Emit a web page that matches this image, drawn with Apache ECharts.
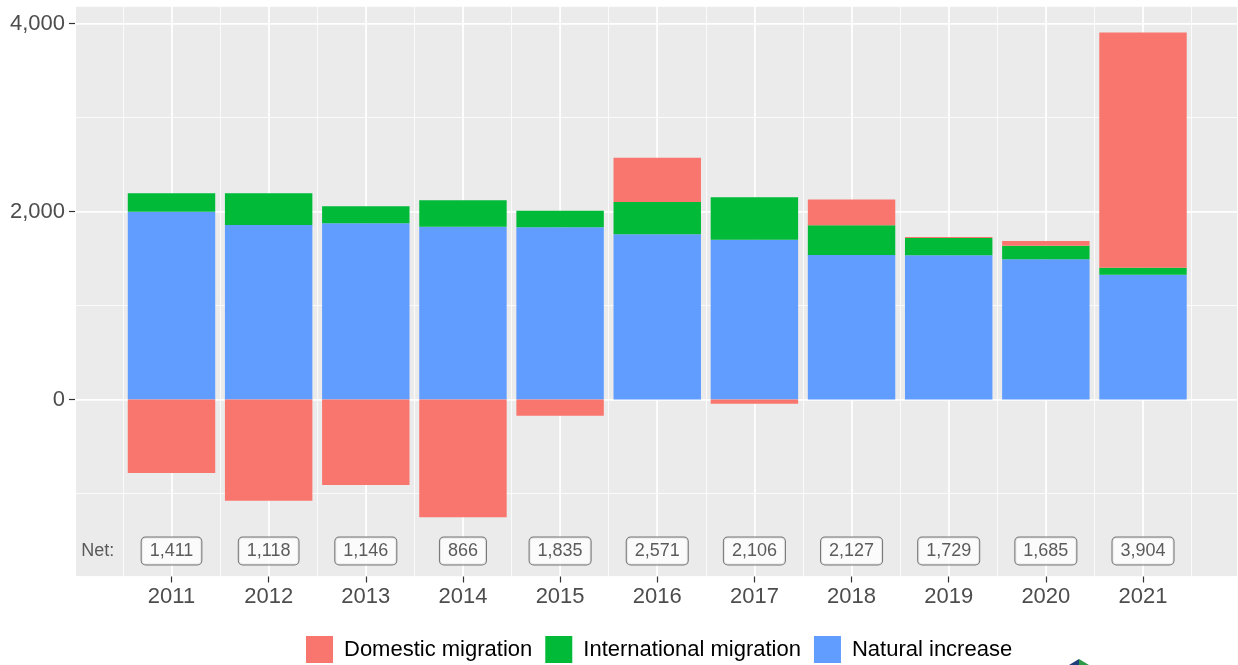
<!DOCTYPE html>
<html>
<head>
<meta charset="utf-8">
<script src="https://cdn.jsdelivr.net/npm/echarts@6/dist/echarts.min.js"></script>
<style>
html,body{margin:0;padding:0;background:#fff;}
#chart{width:1238px;height:665px;}
</style>
</head>
<body>
<div id="chart"></div>
<script>
const years = ['2011','2012','2013','2014','2015','2016','2017','2018','2019','2020','2021'];
const naturalIncrease = [1998,1856,1874,1838,1832,1757,1700,1537,1534,1491,1328];
const internationalMigration = [196,338,181,281,177,344,451,316,184,145,74];
const domesticMigration = [-783,-1076,-909,-1253,-174,470,-45,274,11,49,2502];
const netValues = [1411,1118,1146,866,1835,2571,2106,2127,1729,1685,3904];
const yTickValues = [0,2000,4000];
const seriesNames = ['Domestic migration','International migration','Natural increase'];

const NET_ROW_Y = -1612;
const NET_TEXT_X = -0.76;
const X_MIN = -0.993, X_MAX = 10.978;
const Y_MIN = -1883, Y_MAX = 4186;

const chart = echarts.init(document.getElementById('chart'), null, {renderer:'canvas'});
const FONT = 'Liberation Sans, Arial, sans-serif';

const SLOT = 97.15;
const PANEL_LEFT = 75, FIRST_CENTER = 171.5;

const barCommon = {
  type:'bar', stack:'total', barWidth:'90%', xAxisIndex:2, yAxisIndex:2,
  itemStyle:{borderWidth:0}
};
const noLine = {show:false, onZero:false};

chart.setOption({
  animation:false,
  backgroundColor:'#ffffff',
  grid:[
    {left:PANEL_LEFT, top:6, right:0, bottom:88.5, show:true, backgroundColor:'#EBEBEB', borderWidth:0,
     containLabel:false, outerBoundsMode:'none'},
    {left:FIRST_CENTER - SLOT/2, width:SLOT*years.length, top:6, bottom:88.5, show:false,
     containLabel:false, outerBoundsMode:'none'}
  ],
  xAxis:[
    {type:'value', gridIndex:0, position:'bottom', min:X_MIN, max:X_MAX, splitNumber:24,
     axisLine:noLine, axisTick:{show:false}, axisLabel:{show:false},
     splitLine:{show:true, lineStyle:{color:'#ffffff', width:0.8}}},
    {type:'value', gridIndex:0, position:'bottom', min:X_MIN, max:X_MAX, splitNumber:12,
     axisLine:noLine, axisTick:{show:false}, axisLabel:{show:false},
     splitLine:{show:true, lineStyle:{color:'#ffffff', width:1.6}}},
    {type:'category', gridIndex:1, position:'bottom', data:years, boundaryGap:true,
     axisLine:noLine,
     axisTick:{show:true, alignWithLabel:true, length:6, lineStyle:{color:'#333333', width:1.2}},
     axisLabel:{show:true, margin:9, color:'#4D4D4D', fontSize:22, fontFamily:FONT},
     splitLine:{show:false}}
  ],
  yAxis:[
    {type:'value', gridIndex:0, position:'left', min:Y_MIN, max:Y_MAX, splitNumber:6,
     axisLine:noLine, axisTick:{show:false}, axisLabel:{show:false},
     splitLine:{show:true, lineStyle:{color:'#ffffff', width:0.8}}},
    {type:'value', gridIndex:0, position:'left', min:Y_MIN, max:Y_MAX, splitNumber:3,
     axisLine:noLine,
     axisTick:{show:true, length:6, lineStyle:{color:'#333333', width:1.2}, customValues:yTickValues},
     axisLabel:{show:true, customValues:yTickValues, margin:10, color:'#4D4D4D', fontSize:22, fontFamily:FONT,
       formatter:v=>(yTickValues.indexOf(v)>=0? v.toLocaleString('en-US') : '')},
     splitLine:{show:true, lineStyle:{color:'#ffffff', width:1.6}}},
    {type:'value', gridIndex:1, position:'left', min:Y_MIN, max:Y_MAX,
     axisLine:noLine, axisTick:{show:false}, axisLabel:{show:false}, splitLine:{show:false}}
  ],
  legend:{
    data:seriesNames, left:306, top:636, padding:0, itemWidth:27, itemHeight:27, itemGap:13, icon:'rect',
    textStyle:{color:'#000000', fontSize:22, fontFamily:FONT, padding:[0,0,0,6]}
  },
  graphic:[
    {type:'polygon', shape:{points:[[1079,659],[1079,665],[1069,665]]}, style:{fill:'#1F3F7A'}},
    {type:'polygon', shape:{points:[[1079,659],[1079,665],[1089,665]]}, style:{fill:'#2E9A48'}}
  ],
  series:[
    Object.assign({}, barCommon, {name:seriesNames[2], itemStyle:{color:'#619CFF'}, data:naturalIncrease}),
    Object.assign({}, barCommon, {name:seriesNames[1], itemStyle:{color:'#00BA38'}, data:internationalMigration}),
    Object.assign({}, barCommon, {name:seriesNames[0], itemStyle:{color:'#F8766D'}, data:domesticMigration}),
    {type:'scatter', xAxisIndex:2, yAxisIndex:2, symbolSize:0, silent:true, z:5,
     data:netValues.map((v,i)=>[years[i], NET_ROW_Y, v]),
     label:{show:true, position:'inside', formatter:p=>netValues[p.dataIndex].toLocaleString('en-US'),
       color:'#333333', fontSize:18, fontFamily:FONT, backgroundColor:'#ffffff',
       borderColor:'#555555', borderWidth:1, borderRadius:4, padding:[5,8,4,8]}},
    {type:'scatter', xAxisIndex:0, yAxisIndex:0, symbolSize:0, silent:true, z:5,
     data:[[NET_TEXT_X, NET_ROW_Y]],
     label:{show:true, position:'inside', formatter:'Net:', color:'#333333', fontSize:18, fontFamily:FONT}}
  ]
});
</script>
</body>
</html>
